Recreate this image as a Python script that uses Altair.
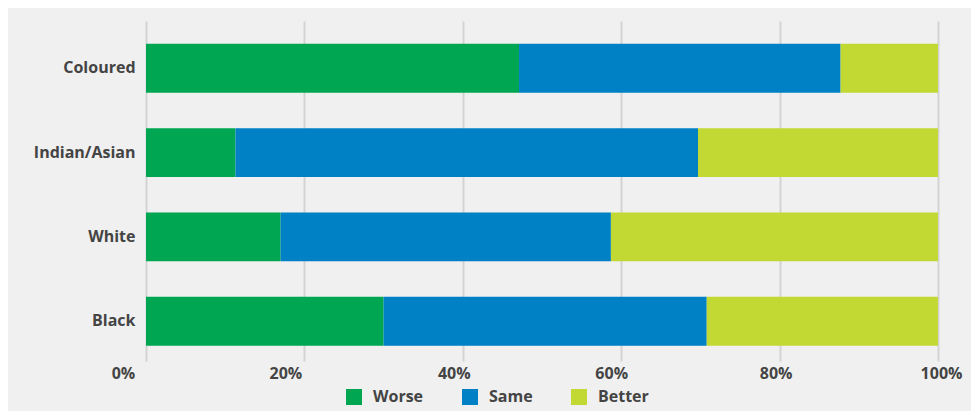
import altair as alt
import pandas as pd

groups = ["Coloured", "Indian/Asian", "White", "Black"]
responses = ["Worse", "Same", "Better"]
worse = [47.1, 11.3, 17.0, 30.0]
same = [40.6, 58.4, 41.7, 40.8]
better = [12.3, 30.3, 41.3, 29.2]
colors = ["#00a651", "#0080c5", "#c2d833"]
x_ticks = [0, 0.2, 0.4, 0.6, 0.8, 1.0]

rows = []
for i, g in enumerate(groups):
    for j, (r, vals) in enumerate(zip(responses, [worse, same, better])):
        rows.append({"group": g, "response": r, "value": vals[i], "order": j})
df = pd.DataFrame(rows)

FONT = "Open Sans"
TXT = "#444444"

label_offset = {
    "condition": [
        {"test": "datum.value < 0.1", "value": -23},
        {"test": "datum.value < 0.3", "value": -19},
        {"test": "datum.value < 0.5", "value": -9},
        {"test": "datum.value < 0.7", "value": -10},
        {"test": "datum.value < 0.9", "value": -4},
    ],
    "value": 3,
}

chart = alt.Chart(df).mark_bar().encode(
    x=alt.X(
        "value:Q",
        stack="normalize",
        scale=alt.Scale(domain=[0, 1], nice=False),
        axis=alt.Axis(
            values=x_ticks, format=".0%", title=None, grid=True,
            gridColor="#d3d3d3", gridWidth=2, domain=False, ticks=False,
            labelFont=FONT, labelFontSize=16, labelFontWeight="bold",
            labelColor=TXT, labelOffset=label_offset, labelPadding=4,
            labelFlush=False, labelOverlap=False,
        ),
    ),
    y=alt.Y(
        "group:N", sort=groups,
        scale=alt.Scale(paddingInner=0.42, paddingOuter=0.2265, align=0.598),
        axis=alt.Axis(
            title=None, domain=False, ticks=False, labelPadding=11,
            labelFont=FONT, labelFontSize=16, labelFontWeight="bold",
            labelColor=TXT,
        ),
    ),
    color=alt.Color(
        "response:N", sort=responses,
        scale=alt.Scale(domain=responses, range=colors),
        legend=alt.Legend(
            title=None, orient="none", legendX=200, legendY=368,
            direction="horizontal", symbolType="square", symbolSize=256,
            symbolStrokeWidth=0, symbolOpacity=1, labelFont=FONT,
            labelFontSize=16, labelFontWeight="bold", labelColor=TXT,
            columnPadding=38, labelOffset=11, padding=0,
        ),
    ),
    order=alt.Order("order:Q"),
).properties(
    width=792, height=340, background="#f0f0f0",
    padding={"left": 138, "top": 13, "right": 33, "bottom": 50},
    autosize=alt.AutoSizeParams(type="none"),
).configure_view(strokeWidth=0)

chart.save("out.html", embed_options={"renderer": "svg", "actions": False})
